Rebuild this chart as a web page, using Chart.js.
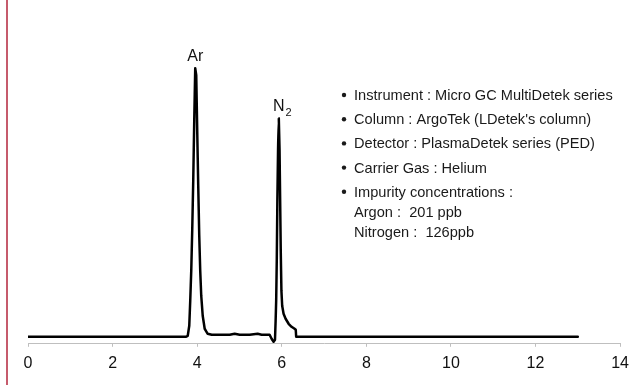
<!DOCTYPE html>
<html>
<head>
<meta charset="utf-8">
<script src="https://cdn.jsdelivr.net/npm/chart.js@4/dist/chart.umd.min.js"></script>
<style>
  body { margin: 0; background: #fff; }
  #wrap { width: 636px; height: 385px; }
</style>
</head>
<body>
<div id="wrap"><canvas id="chromChart" width="636" height="385"></canvas></div>
<script>
// retention time (min) and detector signal
const times = [
  0, 3.730, 3.777, 3.813, 3.836, 3.860, 3.883, 3.907, 3.931, 3.954,
  3.978, 4.001, 4.025, 4.049, 4.072, 4.096, 4.131, 4.178, 4.249, 4.344,
  4.769, 4.887, 5.005, 5.241, 5.430, 5.524, 5.713, 5.760, 5.807, 5.840,
  5.855, 5.868, 5.882, 5.896, 5.912, 5.930, 5.948, 5.962, 5.976, 5.992,
  6.010, 6.043, 6.091, 6.162, 6.232, 6.303, 6.331, 6.341, 13
];
const signal = [
  0, 0, 1, 11, 36, 66, 106, 156, 216, 268,
  261, 206, 151, 101, 66, 41, 21, 8, 3, 2,
  2, 3, 2, 2, 3, 2, 2, -2, -5, -3,
  16, 36, 76, 136, 186, 218, 186, 136, 86, 46,
  31, 23, 18, 13, 10, 8, 7, 0, 0
];
const xTicks = [0, 2, 4, 6, 8, 10, 12, 14];

const peakNames = ['Ar', 'N'];
const peakSubs = ['', '2'];
const peakTimes = [3.954, 5.930];
const peakSignals = [268, 218];

const notes = [
  'Instrument : Micro GC MultiDetek series',
  "Column : ArgoTek (LDetek's column)",
  'Detector : PlasmaDetek series (PED)',
  'Carrier Gas : Helium',
  'Impurity concentrations :'
];
const noteSubLines = ['Argon :  201 ppb', 'Nitrogen :  126ppb'];

const FONT = '"Liberation Sans", Arial, sans-serif';

const annotate = {
  id: 'annotate',
  afterDraw(chart) {
    const { ctx } = chart;
    const xs = chart.scales.x, ys = chart.scales.y;
    ctx.save();

    // left frame line
    ctx.fillStyle = '#c65b6c';
    ctx.fillRect(6, 0, 2, chart.height);

    // peak names
    ctx.fillStyle = '#111';
    ctx.textBaseline = 'alphabetic';
    peakNames.forEach((name, i) => {
      const px = xs.getPixelForValue(peakTimes[i]);
      const py = ys.getPixelForValue(peakSignals[i]) - 7;
      ctx.font = '16px ' + FONT;
      const w = ctx.measureText(name).width;
      ctx.textAlign = 'center';
      ctx.fillText(name, px, py);
      if (peakSubs[i]) {
        ctx.font = '11px ' + FONT;
        ctx.textAlign = 'left';
        ctx.fillText(peakSubs[i], px + w / 2 + 1, py + 5);
      }
    });

    // notes
    ctx.font = '14.6px ' + FONT;
    ctx.textAlign = 'left';
    ctx.fillStyle = '#1a1a1a';
    notes.forEach((t, i) => {
      const by = 100 + i * 24.2;
      ctx.beginPath();
      ctx.arc(344, by - 5, 2.2, 0, Math.PI * 2);
      ctx.fill();
      ctx.fillText(t, 354, by);
    });
    noteSubLines.forEach((t, i) => {
      ctx.fillText(t, 354, 100 + 4 * 24.2 + 20 * (i + 1));
    });
    ctx.restore();
  }
};

new Chart(document.getElementById('chromChart'), {
  type: 'line',
  data: {
    datasets: [{
      data: times.map((t, i) => ({ x: t, y: signal[i] })),
      borderColor: '#000',
      borderWidth: 2.5,
      borderJoinStyle: 'round',
      borderCapStyle: 'round',
      pointRadius: 0,
      // tiny tension keeps segments straight but avoids the pixel-column fast path
      tension: 0.001,
      fill: false
    }]
  },
  options: {
    responsive: false,
    animation: false,
    layout: { padding: { left: 28, right: 15, top: 6, bottom: 5 } },
    plugins: { legend: { display: false }, tooltip: { enabled: false } },
    scales: {
      x: {
        type: 'linear',
        min: 0,
        max: 14,
        afterBuildTicks: (axis) => { axis.ticks = xTicks.map(v => ({ value: v })); },
        grid: { drawOnChartArea: false, drawTicks: true, tickLength: 3, color: '#bfbfbf' },
        border: { color: '#bfbfbf', width: 1 },
        ticks: { color: '#111', padding: 7, font: { family: FONT, size: 16 } }
      },
      y: {
        display: false,
        min: -7,
        max: 330
      }
    }
  },
  plugins: [annotate]
});
</script>
</body>
</html>
